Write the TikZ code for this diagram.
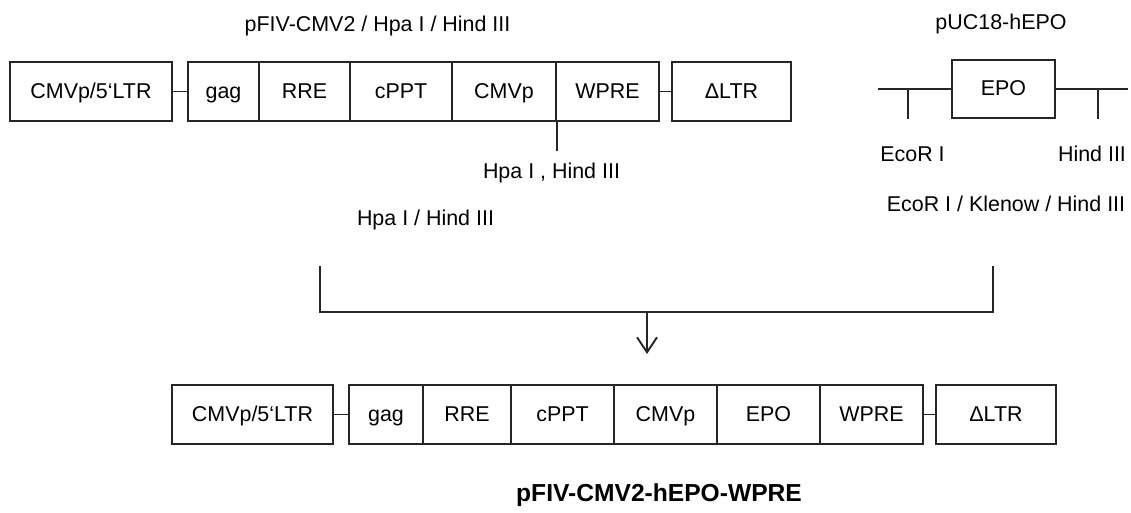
\documentclass[tikz,border=0pt]{standalone}
\usepackage{fontspec}
\setmainfont{Liberation Sans}
\usetikzlibrary{arrows.meta}

\begin{document}
\begin{tikzpicture}[x=0.02cm, y=-0.02cm,
    seg/.style={draw=lineColour, line width=1.1pt, rectangle, inner sep=0pt,
        minimum height=1.18cm, text height=1.6ex, text depth=0.2ex,
        font=\fontsize{12.2pt}{14pt}\selectfont},
    lbl/.style={inner sep=0pt, text height=1.6ex, text depth=0.2ex,
        font=\fontsize{12.2pt}{14pt}\selectfont},
    link/.style={draw=lineColour, line width=1.1pt}]

    \definecolor{lineColour}{HTML}{262626}

    % Fix the page size
    \useasboundingbox (0,0) rectangle (1131,512);

    % Draw the pFIV-CMV2 vector
    \node[lbl] (vecTitle) at (377.5,25) {pFIV-CMV2 / Hpa I / Hind III};
    \foreach \nm/\cx/\w/\txt in {ltrA/91/162/{CMVp/5`LTR}, gagA/223.5/71/gag,
            rreA/304.5/91/RRE, cpptA/401/102/cPPT, cmvA/504/104/CMVp,
            wpreA/607.5/103/WPRE, dltrA/731.5/119/{ΔLTR}}
        \node[seg, minimum width={\w*0.02cm}] (\nm) at (\cx,91.5) {\txt};
    \draw[link] (ltrA.east) -- (gagA.west);
    \draw[link] (wpreA.east) -- (dltrA.west);

    % Cut site
    \draw[link] (cmvA.south east) -- ++(0,29) coordinate (cutA);
    \node[lbl] (cutLbl) at (551.5,172) {Hpa I , Hind III};
    \node[lbl] (digLbl) at (425.5,219) {Hpa I / Hind III};

    % Draw the pUC18-hEPO insert
    \node[lbl] (insTitle) at (1001,23) {pUC18-hEPO};
    \node[seg, minimum width=2.06cm, minimum height=1.16cm] (epo) at (1003.5,89) {EPO};
    \coordinate (lineL) at (878,89);
    \coordinate (lineR) at (1128,89);
    \draw[link] (lineL) -- (epo.west);
    \draw[link] (epo.east) -- (lineR);
    \coordinate (ecoTop) at (908,89);
    \coordinate (ecoEnd) at (908,119);
    \coordinate (hindTop) at (1098,89);
    \coordinate (hindEnd) at (1098,119);
    \draw[link] (ecoTop) -- (ecoEnd);
    \draw[link] (hindTop) -- (hindEnd);
    \node[lbl] (ecoLbl) at (912.5,155) {EcoR I};
    \node[lbl] (hindLbl) at (1092,155) {Hind III};
    \node[lbl] (insDig) at (1006,205) {EcoR I / Klenow / Hind III};

    % Join both parts
    \coordinate (brL) at (320,266);
    \coordinate (brLB) at (320,312);
    \coordinate (brRB) at (993,312);
    \coordinate (brR) at (993,266);
    \coordinate (brMid) at (647,312);
    \coordinate (brTip) at (647,354);
    \draw[link] (brL) -- (brLB) -- (brRB) -- (brR);
    \draw[link, -{Straight Barb[length=0.3cm, width=0.4cm]}] (brMid) -- (brTip);

    % Draw the final construct
    \foreach \nm/\cx/\w/\txt in {ltrB/252.5/161/{CMVp/5`LTR}, gagB/386/74/gag,
            rreB/467/88/RRE, cpptB/562.5/103/cPPT, cmvB/665.5/103/CMVp,
            epoB/768.5/103/EPO, wpreB/871.5/103/WPRE, dltrB/996/120/{ΔLTR}}
        \node[seg, minimum width={\w*0.02cm}] (\nm) at (\cx,414.5) {\txt};
    \draw[link] (ltrB.east) -- (gagB.west);
    \draw[link] (wpreB.east) -- (dltrB.west);
    \node[inner sep=0pt, font=\fontsize{14pt}{16pt}\selectfont\bfseries] (finTitle) at (659,495) {pFIV-CMV2-hEPO-WPRE};

\end{tikzpicture}
\end{document}
